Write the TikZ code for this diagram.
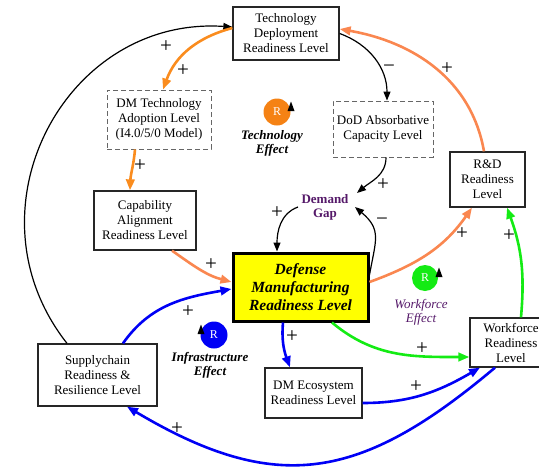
\documentclass[tikz,border=0pt]{standalone}
\usepackage{fontspec}
\setmainfont{Liberation Serif}
\usetikzlibrary{arrows.meta}
\definecolor{orA}{RGB}{250,140,30}
\definecolor{orB}{RGB}{250,135,80}
\definecolor{orC}{RGB}{245,130,20}
\definecolor{bluL}{RGB}{0,0,245}
\definecolor{grnL}{RGB}{20,235,20}
\definecolor{purp}{RGB}{85,25,105}
\definecolor{yel}{RGB}{255,255,0}
\tikzset{
  box/.style={draw=black!85, line width=1.3pt, fill=white, align=center, inner sep=1pt,
    font=\fontsize{13}{15}\selectfont},
  dbox/.style={draw=black!60, dashed, dash pattern=on 5pt off 3pt, line width=0.9pt, fill=white,
    align=center, inner sep=1pt, font=\fontsize{13}{15}\selectfont},
  blk/.style={draw=black, line width=1.2pt, -{Triangle[length=9pt,width=7pt]}},
  orgA/.style={draw=orA, line width=2.6pt, -{Triangle[length=11pt,width=8.5pt]}},
  orgB/.style={draw=orB, line width=2.6pt, -{Triangle[length=11pt,width=8.5pt]}},
  bl/.style={draw=bluL, line width=2.6pt, -{Triangle[length=11pt,width=8.5pt]}},
  gr/.style={draw=grnL, line width=2.6pt, -{Triangle[length=11pt,width=8.5pt]}},
  pm/.style={font=\fontsize{21}{21}\selectfont, inner sep=0pt},
  eff/.style={align=center, font=\fontsize{13}{14}\selectfont\bfseries\itshape, inner sep=1pt},
  rloop/.style={circle, minimum size=27pt, inner sep=0pt, text=white, font=\fontsize{12}{12}\selectfont}
}
\begin{document}
\begin{tikzpicture}[x=1pt,y=1pt]
\path[use as bounding box] (0,0) rectangle (539,-469);

% nodes
\node[box, minimum width=106pt, minimum height=53pt] (tdrl) at (286,-33.5) {Technology\\Deployment\\Readiness Level};
\node[dbox, minimum width=104pt, minimum height=59pt] (dmta) at (159,-119.5) {DM Technology\\Adoption Level\\(I4.0/5/0 Model)};
\node[dbox, minimum width=100pt, minimum height=56pt] (dod) at (383,-129) {DoD Absorbative\\Capacity Level};
\node[box, minimum width=75pt, minimum height=55pt] (rd) at (487.5,-179.5) {R\&D\\Readiness\\Level};
\node[box, minimum width=102pt, minimum height=59pt] (cap) at (145,-220.5) {Capability\\Alignment\\Readiness Level};
\node[box, draw=black, line width=3pt, fill=yel, minimum width=135pt, minimum height=68pt,
  font=\fontsize{15.5}{18}\selectfont\bfseries\itshape] (dmrl) at (300.5,-287) {Defense\\Manufacturing\\Readiness Level};
\node[box, minimum width=82pt, minimum height=49pt] (wf) at (511,-342.5) {Workforce\\Readiness\\Level};
\node[box, minimum width=97pt, minimum height=50pt] (eco) at (313.5,-393) {DM Ecosystem\\Readiness Level};
\node[box, minimum width=119pt, minimum height=62pt] (sc) at (97.5,-375) {Supplychain\\Readiness \&\\Resilience Level};
\node[align=center, text=purp, font=\fontsize{13}{14}\selectfont\bfseries, inner sep=1pt] (dg) at (325,-207) {Demand\\Gap};

% loop markers
\node[rloop, fill=orC] (rt) at (277,-112) {R};
\fill (287.5,-111) -- (294.5,-111) -- (291,-101.5) -- cycle;
\node[eff] (te) at (272,-143) {Technology\\Effect};
\node[rloop, fill=bluL] (ri) at (214,-335) {R};
\fill (197.5,-334) -- (204.5,-334) -- (201,-324.5) -- cycle;
\node[eff] (ie) at (210,-365) {Infrastructure\\Effect};
\node[rloop, fill=grnL, minimum size=26pt] (rw) at (425,-278) {R};
\fill (435.5,-277) -- (442.5,-277) -- (439,-267.5) -- cycle;
\node[eff, text=purp, font=\fontsize{13}{14}\selectfont\itshape] (we) at (421,-312) {Workforce\\Effect};

% connectors
\draw[blk] ([xshift=-30.5pt]sc.north) .. controls (-37.6,-210.5) and (64.6,-15.8) .. ([yshift=6.5pt]tdrl.west);
\draw[orgA] ([yshift=5.5pt]tdrl.west) to[out=195,in=70] ([xshift=4pt]dmta.north);
\draw[orgA] ([xshift=-24pt]dmta.south) to[out=-95,in=88] ([xshift=-15pt]cap.north);
\draw[orgB] ([xshift=27pt]cap.south) to[out=-35,in=165] ([yshift=5pt]dmrl.west);
\draw[bl] ([xshift=25.5pt]sc.north) to[out=55,in=190] ([yshift=-2pt]dmrl.west);
\draw[blk] (tdrl.east) to[out=-20,in=90] ([xshift=4pt]dod.north);
\draw[blk] ([xshift=3pt]dod.south) to[out=-90,in=40] ([shift={(32,14)}]dg.center);
\draw[blk] ([yshift=12pt]dmrl.east) to[out=80,in=-40,looseness=1.3] ([shift={(30,0)}]dg.center);
\draw[blk] ([shift={(-27,0)}]dg.center) to[out=200,in=90] ([xshift=-23.5pt]dmrl.north);
\draw[orgB] ([yshift=5pt]dmrl.east) to[out=20,in=-125] ([xshift=-15.5pt]rd.south);
\draw[orgB] ([xshift=-3.5pt]rd.north) to[out=100,in=-10] ([yshift=4.5pt]tdrl.east);
\draw[gr] ([xshift=31.5pt]dmrl.south) to[out=-40,in=180] ([yshift=-14.5pt]wf.west);
\draw[gr] ([xshift=10pt]wf.north) to[out=85,in=-70] ([xshift=19.5pt]rd.south);
\draw[bl] ([xshift=-17.5pt]dmrl.south) to[out=-95,in=110] ([xshift=-23.5pt]eco.north);
\draw[bl] ([yshift=-10pt]eco.east) to[out=0,in=-150] ([xshift=-31pt]wf.south);
\draw[bl] ([xshift=-16pt]wf.south) .. controls (361,-480.5) and (277,-496) .. ([xshift=29.5pt]sc.south);

% polarity labels
\node[pm] (p1) at (166,-47) {+};
\node[pm] (p2) at (183,-71) {+};
\node[pm] (p3) at (140,-166) {+};
\node[pm] (p4) at (211,-265) {+};
\node[pm] (p5) at (188,-312) {+};
\node[pm] (m1) at (389,-69) {−};
\node[pm] (p6) at (383,-185) {+};
\node[pm] (p7) at (277,-213) {+};
\node[pm] (m2) at (382,-222) {−};
\node[pm] (p8) at (447,-69) {+};
\node[pm] (p9) at (462,-234) {+};
\node[pm] (p10) at (509,-236) {+};
\node[pm] (p11) at (422,-349) {+};
\node[pm] (p12) at (292,-337) {+};
\node[pm] (p13) at (416,-387) {+};
\node[pm] (p14) at (177,-429) {+};
\end{tikzpicture}
\end{document}
